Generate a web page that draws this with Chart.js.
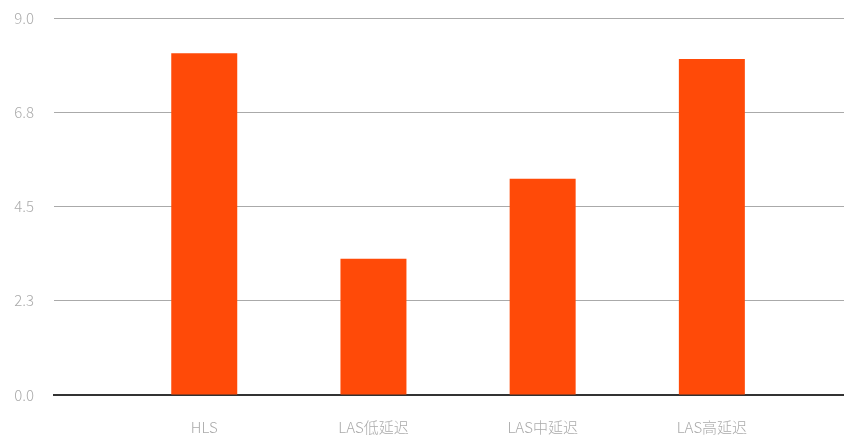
<!DOCTYPE html>
<html>
<head>
<meta charset="utf-8">
<script src="https://cdn.jsdelivr.net/npm/chart.js@4/dist/chart.umd.min.js"></script>
<style>
  html, body { margin: 0; padding: 0; background: #fff; overflow: hidden; }
  canvas { display: block; }
</style>
</head>
<body>
<canvas id="latencyChart" width="844" height="439"></canvas>
<script>
const categories = ['HLS', 'LAS低延迟', 'LAS中延迟', 'LAS高延迟'];
const latency = [8.16, 3.25, 5.16, 8.02];
const yTicks = [0, 2.25, 4.5, 6.75, 9];

// drop the overhang padding chart.js reserves around the axes
const noOverhang = (axis) => {
  axis.paddingTop = 0;
  axis.paddingBottom = 0;
  axis.paddingLeft = 0;
  axis.paddingRight = 0;
};

document.addEventListener('DOMContentLoaded', () => {
  const ctx = document.getElementById('latencyChart').getContext('2d');
  const font = { family: "'Noto Sans CJK SC', 'Lato', sans-serif", size: 15, weight: 300 };
  new Chart(ctx, {
    type: 'bar',
    data: {
      datasets: [{
        data: latency.map((v, i) => ({ x: i, y: v })),
        backgroundColor: '#ff4a08',
        categoryPercentage: 1,
        barPercentage: 0.39
      }]
    },
    options: {
      responsive: false,
      animation: false,
      layout: { padding: { left: 10, right: 0, top: 18, bottom: 3 } },
      plugins: {
        legend: { display: false },
        tooltip: { enabled: false }
      },
      scales: {
        x: {
          type: 'linear',
          offset: false,
          min: -0.888,
          max: 3.781,
          afterFit: (axis) => { noOverhang(axis); axis.height = 41; },
          grid: { display: false, drawTicks: false },
          border: { display: true, color: '#333', width: 2 },
          ticks: {
            stepSize: 1,
            includeBounds: false,
            autoSkip: false,
            maxRotation: 0,
            padding: 23,
            color: '#aaa',
            font: font,
            callback: (v) => Number.isInteger(v) && categories[v] ? categories[v] : ''
          }
        },
        y: {
          min: yTicks[0],
          max: yTicks[yTicks.length - 1],
          afterBuildTicks: (axis) => { axis.ticks = yTicks.map(v => ({ value: v })); },
          afterFit: (axis) => { noOverhang(axis); axis.width = 44; },
          border: { display: false },
          grid: { color: '#aaa', lineWidth: 1, drawTicks: false },
          ticks: {
            padding: 20,
            color: '#aaa',
            font: font,
            callback: (v) => v.toFixed(1)
          }
        }
      }
    }
  });
});
</script>
</body>
</html>
